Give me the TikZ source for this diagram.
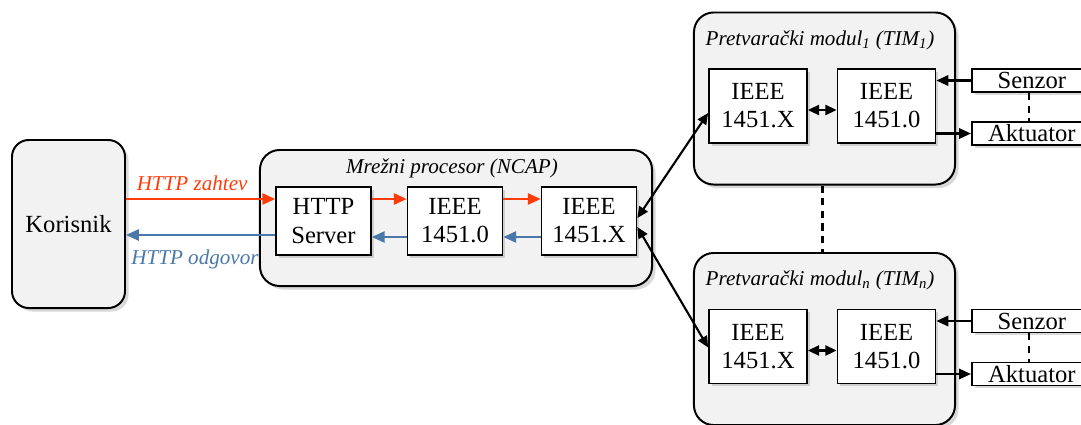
\documentclass[tikz,border=0pt]{standalone}
\usepackage{fontspec}
\setmainfont{Liberation Serif}
\usetikzlibrary{arrows.meta,positioning,calc,shadows}
\definecolor{pgray}{HTML}{F2F2F2}
\definecolor{preq}{HTML}{FF3B0A}
\definecolor{presp}{HTML}{4A78A8}
\newcommand{\boxfont}{\fontsize{17.5}{20}\selectfont}
\newcommand{\lblfont}{\fontsize{15}{18}\selectfont\itshape}
\tikzset{
  % rounded gray container with a soft shadow
  grp/.style   = {rectangle, rounded corners=#1, draw=black, fill=pgray, line width=1.4pt,
                  font=\boxfont, drop shadow={shadow xshift=2.5pt, shadow yshift=-2.5pt, opacity=0.3}},
  grp/.default = 14pt,
  blk/.style   = {rectangle, draw=black, fill=white, line width=1.2pt, align=center, font=\boxfont,
                  inner sep=0pt, minimum width=2.375cm, minimum height=1.7cm,
                  drop shadow={shadow xshift=2pt, shadow yshift=-2pt, opacity=0.3}},
  io/.style    = {rectangle, draw=black, fill=white, line width=1.2pt, font=\boxfont, inner sep=0pt,
                  minimum width=3cm, minimum height=0.575cm, anchor=west,
                  drop shadow={shadow xshift=2pt, shadow yshift=-2pt, opacity=0.3}},
  ttl/.style   = {font=\lblfont, inner sep=0pt},
  req/.style   = {-{Triangle[length=3.2mm, width=2.8mm]}, line width=1.4pt, preq},
  resp/.style  = {-{Triangle[length=3.2mm, width=2.8mm]}, line width=1.4pt, presp},
  bus/.style   = {{Triangle[length=2.8mm, width=2.5mm]}-{Triangle[length=2.8mm, width=2.5mm]}, line width=1.5pt},
  sig/.style   = {-{Triangle[length=3mm, width=2.6mm]}, line width=1.5pt},
  link/.style  = {line width=1.5pt, dash pattern=on 5pt off 4pt},
}
\begin{document}
\begin{tikzpicture}[x=0.025cm, y=-0.025cm]
\clip (0,0) rectangle (1081,424);
% user
\node[grp=12pt, minimum width=2.825cm, minimum height=4.2cm] (kor) at (68.5,224) {Korisnik};
% network processor
\node[grp, minimum width=9.8cm, minimum height=3.4cm] (ncap) at (456,218) {};
\node[ttl] (ncapt) at (452,168) {Mrežni procesor (NCAP)};
\node[blk] (http) at (323.5,221) {HTTP\\Server};
\node[blk] (n0)   at (455,221)   {IEEE\\1451.0};
\node[blk] (nx)   at (589,221)   {IEEE\\1451.X};
% request / response
\coordinate (rq) at ($(http.west)+(0,-22)$);
\coordinate (rs) at ($(http.west)+(0,14)$);
\draw[req]  (kor.east |- rq) -- node[ttl, text=preq, above=5pt, xshift=-6pt] (rqt) {HTTP zahtev} (rq);
\draw[resp] (rs) -- node[ttl, text=presp, below=10pt, xshift=-4pt] (rst) {HTTP odgovor} (kor.east |- rs);
\draw[req]  ($(http.east)+(0,-22)$) -- ($(n0.west)+(0,-22)$);
\draw[req]  ($(n0.east)+(0,-22)$) -- ($(nx.west)+(0,-22)$);
\draw[resp] ($(nx.west)+(0,16)$) -- ($(n0.east)+(0,16)$);
\draw[resp] ($(n0.west)+(0,16)$) -- ($(http.east)+(0,16)$);
% transducer modules
\foreach \t/\cy in {1/98.5, n/339} {
  \node[grp, minimum width=6.525cm, minimum height=4.3cm] (tim\t) at (824.5,\cy) {};
  \node[ttl] (tim\t t) at (820,\cy-58.5) {Pretvarački modul\textsubscript{\t} (TIM\textsubscript{\t})};
  \node[blk, minimum width=2.45cm, minimum height=1.85cm] (x\t) at (758,\cy+7.5) {IEEE\\1451.X};
  \node[blk, minimum width=2.45cm, minimum height=1.85cm] (z\t) at (886.5,\cy+7.5) {IEEE\\1451.0};
  \node[io] (sen\t) at (971,\cy-18) {Senzor};
  \node[io] (akt\t) at (971,\cy+35) {Aktuator};
  \draw[bus] ($(x\t.east)+(0,4)$) -- ($(z\t.west)+(0,4)$);
  \draw[sig] (sen\t.west) -- (z\t.east |- sen\t.west);
  \draw[sig] (z\t.east |- akt\t.west) -- (akt\t.west);
  \draw[link] ($(sen\t.south)+(-3,0)$) -- ($(akt\t.north)+(-3,0)$);
}
\draw[link] ($(tim1.south)+(-2,0)$) -- ($(timn.north)+(-2,0)$);
\draw[bus] ($(nx.east)+(0,-3)$) -- ($(x1.west)+(0,7)$);
\draw[bus] ($(nx.east)+(0,6)$) -- ($(xn.west)+(0,1)$);
\end{tikzpicture}
\end{document}
